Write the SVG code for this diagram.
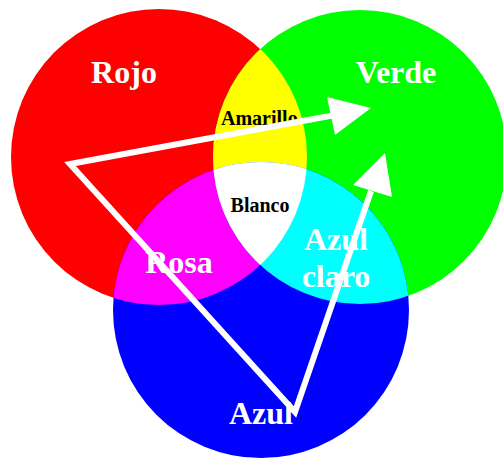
<svg xmlns="http://www.w3.org/2000/svg" width="503" height="460" viewBox="0 0 503 460">
  <style>
    .big { font-family: "Liberation Serif", "Times New Roman", serif; font-weight: bold; font-size: 32px; fill: #ffffff; text-anchor: middle; }
    .small { font-family: "Liberation Serif", "Times New Roman", serif; font-weight: bold; font-size: 20px; fill: #000000; }
    .conn { fill: none; stroke: #ffffff; stroke-width: 6; stroke-linejoin: miter; }
    .head { fill: #ffffff; stroke: none; }
  </style>
  <defs>
    <clipPath id="clipR"><circle cx="159" cy="157" r="148"/></clipPath>
    <clipPath id="clipG"><circle cx="360" cy="157" r="147"/></clipPath>
    <clipPath id="clipB"><circle cx="261" cy="310" r="148"/></clipPath>
  </defs>
  <rect width="503" height="460" fill="#ffffff"/>

  <g id="rojo">
    <circle cx="159" cy="157" r="148" fill="#ff0000"/>
  </g>
  <g id="verde">
    <circle cx="360" cy="157" r="147" fill="#00ff00"/>
  </g>
  <g id="azul">
    <circle cx="261" cy="310" r="148" fill="#0000ff"/>
  </g>
  <g id="amarillo">
    <g clip-path="url(#clipR)"><circle cx="360" cy="157" r="147" fill="#ffff00"/></g>
  </g>
  <g id="rosa">
    <g clip-path="url(#clipR)"><circle cx="261" cy="310" r="148" fill="#ff00ff"/></g>
  </g>
  <g id="azul-claro">
    <g clip-path="url(#clipG)"><circle cx="261" cy="310" r="148" fill="#00ffff"/></g>
  </g>
  <g id="blanco">
    <g clip-path="url(#clipR)"><g clip-path="url(#clipG)"><circle cx="261" cy="310" r="148" fill="#ffffff"/></g></g>
  </g>

  <g id="labels">
    <text class="big" x="124" y="83">Rojo</text>
    <text class="big" x="396" y="83">Verde</text>
    <text class="small" x="221" y="125">Amarillo</text>
    <text class="small" x="260" y="212" text-anchor="middle">Blanco</text>
    <text class="big" x="179" y="273">Rosa</text>
    <text class="big" x="336" y="250">Azul</text>
    <text class="big" x="336" y="287">claro</text>
    <text class="big" x="261" y="424">Azul</text>
  </g>

  <g id="connectors">
    <path class="conn" d="M 335 115 L 70 164 L 295 412 L 371 191"/>
    <polygon class="head" points="371,108 327,97 335,135"/>
    <polygon class="head" points="385,153 353,185 392,197"/>
  </g>
</svg>
